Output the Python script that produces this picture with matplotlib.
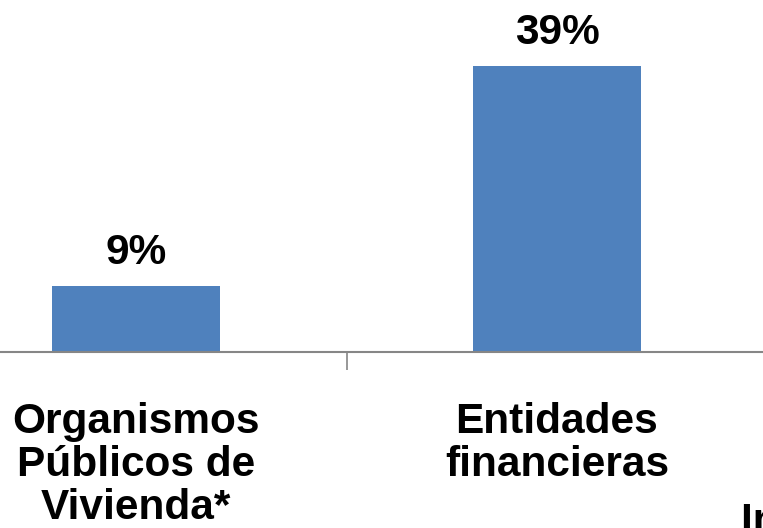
import matplotlib
matplotlib.use("Agg")
import matplotlib.pyplot as plt
import matplotlib.transforms as mtransforms

categories = ["Organismos\nPúblicos de\nVivienda*", "Entidades\nfinancieras", "Inversionistas privados"]
values = [9, 39, 52]
value_labels = ["9%", "39%", "52%"]

plt.rcParams['font.family'] = ['Liberation Sans', 'DejaVu Sans']

fig = plt.figure(figsize=(7.63, 5.28), dpi=100)
ax = fig.add_axes([0, 176/528, 1, 330/528])

x = list(range(len(categories)))
bars = ax.bar(x, values, width=0.40, color='#4F81BD', zorder=2)
for xi, v, lab in zip(x, values, value_labels):
    ax.annotate(lab, (xi, v), xytext=(0, 13), textcoords='offset pixels',
                ha='center', va='bottom', fontsize=30.5, fontweight='bold')

for s in ['top', 'right', 'left']:
    ax.spines[s].set_visible(False)
ax.spines['bottom'].set_color('#868686')
ax.spines['bottom'].set_linewidth(1.5)
ax.set_yticks([])

ax.set_xticks(x[:2])
ax.set_xticklabels(categories[:2], fontsize=30.5, fontweight='bold', linespacing=1.1)
ax.tick_params(axis='x', which='major', length=0, pad=36)
ax.set_xticks([0.5, 1.5], minor=True)
ax.tick_params(axis='x', which='minor', length=13, width=1.2, color='#868686', direction='out')

# third category label (its tick lies beyond the visible range)
trans = mtransforms.blended_transform_factory(ax.transData, ax.transAxes)
ax.text(x[2], -150/330, categories[2], transform=trans, ha='center', va='top',
        fontsize=30.5, fontweight='bold', clip_on=False)

ax.set_xlim(-136/421, (763-136)/421)
ax.set_ylim(0, 45)

fig.savefig('out.png', dpi=100)
